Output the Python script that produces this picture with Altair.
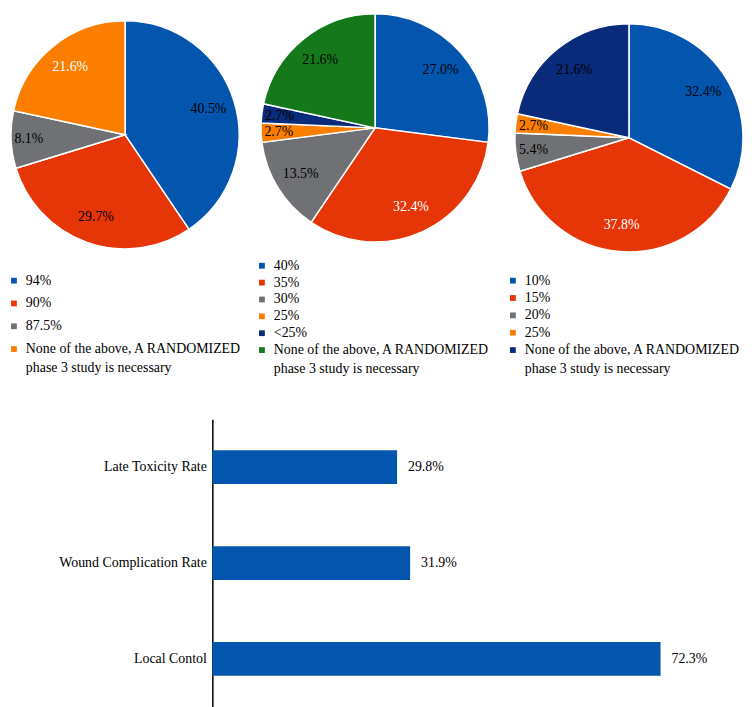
import altair as alt
import pandas as pd

# ---------------- data ----------------
NONE_LABEL = "None of the above, A RANDOMIZED\nphase 3 study is necessary"

pie1_cats = ["94%", "90%", "87.5%", NONE_LABEL]
pie1_vals = [40.5, 29.7, 8.1, 21.6]

pie2_cats = ["40%", "35%", "30%", "25%", "<25%", NONE_LABEL]
pie2_vals = [27.0, 32.4, 13.5, 2.7, 2.7, 21.6]

pie3_cats = ["10%", "15%", "20%", "25%", NONE_LABEL]
pie3_vals = [32.4, 37.8, 5.4, 2.7, 21.6]

bar_cats = ["Late Toxicity Rate", "Wound Complication Rate", "Local Contol"]
bar_vals = [29.8, 31.9, 72.3]

# ---------------- style ----------------
FONT = "Liberation Serif"
BLUE = "#0455AE"
RED = "#E63507"
GRAY = "#6F7174"
ORANGE = "#FB7E00"
NAVY = "#0A2B7A"
GREEN = "#15791C"
R = 115
PANEL_H = 370


def pie_panel(cats, vals, colors, white_idx, width, cx, cy, leg_range, sq_x, tx_x):
    df = pd.DataFrame({"cat": cats, "value": vals, "idx": list(range(len(cats)))})
    color = alt.Color("cat:N", scale=alt.Scale(domain=cats, range=colors), legend=None)
    base = alt.Chart(df).encode(
        theta=alt.Theta("value:Q", stack=True),
        order=alt.Order("idx:Q"),
    )
    arc = base.mark_arc(outerRadius=R, stroke="white", strokeWidth=1.5).encode(
        color=color, x=alt.value(cx), y=alt.value(cy),
    )
    txt_color = alt.condition(alt.datum.idx == white_idx, alt.value("white"), alt.value("black"))
    # labels of large slices sit nearer the centre, those of thin slices near the rim
    txt_big = (
        base.transform_calculate(lab="datum.value >= 10 ? format(datum.value, '.1f') + '%' : ''")
        .mark_text(font=FONT, fontSize=14, radius=88)
        .encode(text="lab:N", color=txt_color, x=alt.value(cx), y=alt.value(cy))
    )
    txt_small = (
        base.transform_calculate(lab="datum.value < 10 ? format(datum.value, '.1f') + '%' : ''")
        .mark_text(font=FONT, fontSize=14, radius=97)
        .encode(text="lab:N", color=txt_color, x=alt.value(cx), y=alt.value(cy))
    )

    ldf = pd.DataFrame({
        "cat": cats,
        "idx": list(range(len(cats))),
        "line1": [c.split("\n")[0] for c in cats],
        "line2": [c.split("\n")[1] if "\n" in c else "" for c in cats],
    })
    lbase = alt.Chart(ldf).encode(
        y=alt.Y("idx:O", axis=None,
                scale=alt.Scale(type="point", range=leg_range, padding=0))
    )
    sq = lbase.mark_square(size=34, opacity=1).encode(x=alt.value(sq_x), color=color)
    t1 = lbase.mark_text(align="left", baseline="middle", font=FONT, fontSize=14,
                         color="black").encode(x=alt.value(tx_x), text="line1:N")
    t2 = lbase.mark_text(align="left", baseline="middle", font=FONT, fontSize=14,
                         color="black", dy=19).encode(x=alt.value(tx_x), text="line2:N")
    return alt.layer(arc, txt_big, txt_small, sq, t1, t2).properties(width=width, height=PANEL_H)


p1 = pie_panel(pie1_cats, pie1_vals, [BLUE, RED, GRAY, ORANGE], 3,
               width=248, cx=115, cy=122, leg_range=[269, 338], sq_x=3, tx_x=15)
p2 = pie_panel(pie2_cats, pie2_vals, [BLUE, RED, GRAY, ORANGE, NAVY, GREEN], 1,
               width=252, cx=119, cy=115, leg_range=[254, 339], sq_x=5, tx_x=17)
p3 = pie_panel(pie3_cats, pie3_vals, [BLUE, RED, GRAY, ORANGE, NAVY], 1,
               width=238, cx=123, cy=125, leg_range=[269, 339], sq_x=6, tx_x=18)

top = alt.hconcat(p1, p2, p3, spacing=0, bounds="flush").resolve_scale(
    color="independent", y="independent", theta="independent"
)

# ---------------- bar chart ----------------
bdf = pd.DataFrame({"cat": bar_cats, "value": bar_vals})
bbase = alt.Chart(bdf).encode(
    y=alt.Y(
        "cat:N",
        sort=bar_cats,
        title=None,
        scale=alt.Scale(paddingInner=0.648, paddingOuter=0.324),
        axis=alt.Axis(
            labelFont=FONT, labelFontSize=14, labelColor="black", ticks=False,
            domainColor="black", domainWidth=1.5, labelPadding=6, labelLimit=300,
        ),
    ),
    x=alt.X("value:Q", scale=alt.Scale(domain=[0, 80], nice=False), axis=None),
)
bars = bbase.mark_bar(color=BLUE)
blabels = bbase.transform_calculate(
    lab="format(datum.value, '.1f') + '%'"
).mark_text(align="left", baseline="middle", dx=11, font=FONT, fontSize=14, color="black").encode(
    text="lab:N"
)
bar_chart = alt.layer(bars, blabels).properties(width=500, height=290)

spacer = alt.Chart(pd.DataFrame({"s": [0]})).mark_point(opacity=0).properties(width=202.7, height=290)
bottom = alt.hconcat(spacer, bar_chart, spacing=0, bounds="flush")

chart = (
    alt.vconcat(top, bottom, spacing=38.75)
    .resolve_scale(color="independent", y="independent", x="independent", theta="independent")
    .properties(padding=0)
    .configure_view(stroke=None)
)

chart.save("out.html", embed_options={"renderer": "svg", "actions": False})
